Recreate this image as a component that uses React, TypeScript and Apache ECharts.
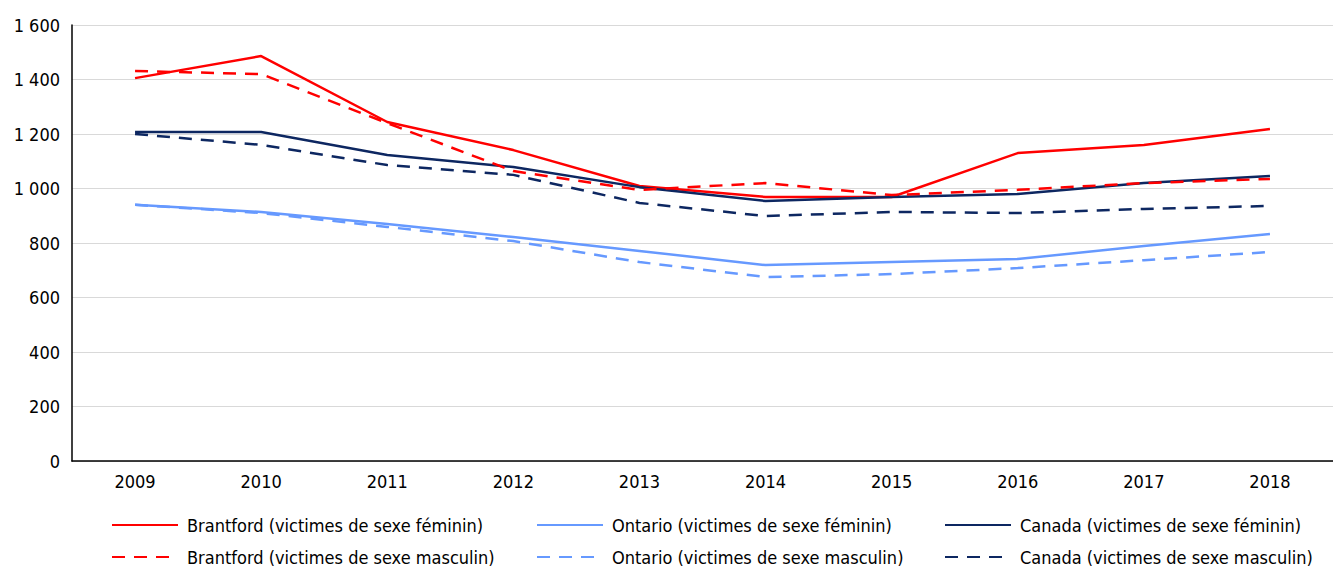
import React, { useEffect, useRef } from "react";
import * as echarts from "echarts";

const years = ["2009", "2010", "2011", "2012", "2013", "2014", "2015", "2016", "2017", "2018"];
const brantfordF = [1405, 1486, 1244, 1141, 1009, 969, 969, 1130, 1160, 1218];
const brantfordM = [1431, 1420, 1240, 1064, 995, 1020, 976, 995, 1020, 1035];
const ontarioF = [940, 914, 870, 822, 771, 719, 730, 741, 789, 833];
const ontarioM = [940, 910, 859, 807, 730, 675, 686, 708, 737, 767];
const canadaF = [1207, 1207, 1123, 1079, 1005, 954, 969, 980, 1020, 1046];
const canadaM = [1200, 1160, 1086, 1050, 947, 899, 914, 910, 925, 936];
const seriesNames = [
  "Brantford (victimes de sexe féminin)",
  "Brantford (victimes de sexe masculin)",
  "Ontario (victimes de sexe féminin)",
  "Ontario (victimes de sexe masculin)",
  "Canada (victimes de sexe féminin)",
  "Canada (victimes de sexe masculin)",
];

const RED = "#ff0000";
const LBLUE = "#6699ff";
const NAVY = "#0d2761";
const FONT = "'DejaVu Sans Condensed', 'Liberation Sans Narrow', sans-serif";

export default function App() {
  const ref = useRef<HTMLDivElement>(null);
  useEffect(() => {
    if (!ref.current) return;
    const chart = echarts.init(ref.current, null, { renderer: "svg" });
    const mk = (name: string, data: number[], color: string, dashed: boolean) => ({
      name,
      type: "line",
      data,
      symbol: "none",
      lineStyle: { color, width: 2.5, type: dashed ? [13, 9] : "solid" },
      itemStyle: { color },
      z: dashed ? 3 : 2,
    });
    const lefts = [106, 106, 531, 531, 939, 939];
    const tops = [511, 543, 511, 543, 511, 543];
    const legends = seriesNames.map((n, i) => ({
      left: lefts[i],
      top: tops[i],
      itemWidth: 66,
      itemHeight: 14,
      itemStyle: { opacity: 0 },
      textStyle: { fontFamily: FONT, fontSize: 18, color: "#000", padding: [0, 0, 0, 4] },
      data: [n],
    }));
    chart.setOption({
      animation: false,
      textStyle: { fontFamily: FONT },
      grid: { left: 72, right: 0, top: 25, bottom: 111, containLabel: false },
      xAxis: {
        type: "category",
        data: years,
        boundaryGap: true,
        axisLine: { lineStyle: { color: "#000", width: 1.5 } },
        axisTick: { inside: true, length: 6, lineStyle: { color: "#000" } },
        axisLabel: { color: "#000", fontSize: 18, fontFamily: FONT, margin: 11 },
      },
      yAxis: {
        type: "value",
        min: 0,
        max: 1600,
        interval: 200,
        axisLine: { show: true, lineStyle: { color: "#000", width: 1.5 } },
        axisTick: { show: false },
        splitLine: { lineStyle: { color: "#d9d9d9", width: 1 } },
        axisLabel: {
          color: "#000",
          fontSize: 18,
          fontFamily: FONT,
          margin: 12,
          formatter: (v: number) => (v >= 1000 ? String(v).replace(/^(\d)(\d{3})$/, "$1 $2") : String(v)),
        },
      },
      legend: legends,
      series: [
        mk(seriesNames[0], brantfordF, RED, false),
        mk(seriesNames[1], brantfordM, RED, true),
        mk(seriesNames[2], ontarioF, LBLUE, false),
        mk(seriesNames[3], ontarioM, LBLUE, true),
        mk(seriesNames[4], canadaF, NAVY, false),
        mk(seriesNames[5], canadaM, NAVY, true),
      ],
    });
    return () => chart.dispose();
  }, []);
  return <div ref={ref} style={{ width: 1333, height: 572, position: "absolute", left: 0, top: 0 }} />;
}
